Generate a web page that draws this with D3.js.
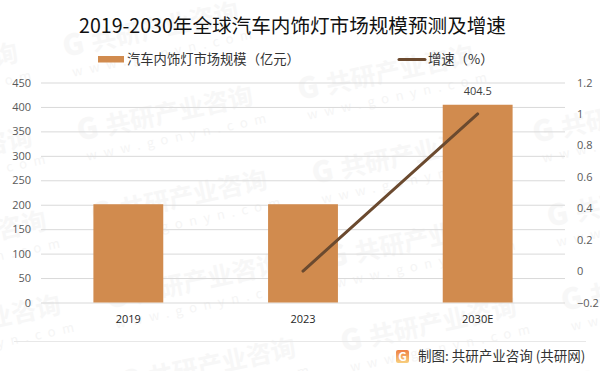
<!DOCTYPE html>
<html lang="zh">
<head>
    <meta charset="UTF-8">
    <title>2019-2030年全球汽车内饰灯市场规模预测及增速</title>
    <script src="https://cdn.jsdelivr.net/npm/d3@7/dist/d3.min.js"></script>
    <style>
        html, body { margin: 0; padding: 0; background: #fff; }
        svg { display: block; }
        text { font-family: "Noto Sans CJK SC", "Liberation Sans", sans-serif; }
        .num { font-family: "Open Sans", "Liberation Sans", sans-serif; }
    </style>
</head>
<body>
<script type="text/javascript">
    let categories = ["2019", "2023", "2030E"];
    let marketSize = [201, 201, 404.5];
    let growth = [null, 0, 1];
    let leftTicks = [0, 50, 100, 150, 200, 250, 300, 350, 400, 450];
    let rightTicks = [-0.2, 0, 0.2, 0.4, 0.6, 0.8, 1, 1.2];
    let barLabels = ["", "", "404.5"];

    let width = 600,
        height = 371,
        left = 41,
        right = 565,
        top_ = 82.5,
        bottom = 302.5;

    let svg = d3.select("body").append("svg")
        .attr("width", width)
        .attr("height", height);

    // 水印：斜向平铺
    let wm = svg.append("g").attr("class", "watermark");
    d3.range(-1, 3).forEach(function (col) {
        d3.range(0, 5).forEach(function (row) {
            let px = 65 + col * 235 + (row - 0) * 14.3,
                py = 57 + col * 43 + row * 84;
            if (px < -170 || py > 395 || py < -10) return;
            let g = wm.append("g")
                .attr("transform", "translate(" + px + "," + py + ") rotate(-12)");
            g.append("text").text("G")
                .attr("font-size", 29)
                .attr("font-weight", 900)
                .attr("fill", "#f7f7f7");
            g.append("text").text("共研产业咨询")
                .attr("x", 29)
                .attr("font-size", 25)
                .attr("font-weight", 700)
                .attr("fill", "#f7f7f7");
            g.append("text").text("www.gonyn.com")
                .attr("x", 4)
                .attr("y", 21)
                .attr("font-size", 13)
                .attr("letter-spacing", 6.8)
                .attr("fill", "#f5f5f5");
        });
    });

    let x = d3.scaleBand()
        .domain(categories)
        .range([left, right])
        .paddingInner(0.6)
        .paddingOuter(0.3);

    let yLeft = d3.scaleLinear()
        .domain([0, 450])
        .range([bottom, top_]);

    let yRight = d3.scaleLinear()
        .domain([-0.2, 1.2])
        .range([bottom, top_]);

    // 网格线
    svg.append("g")
        .attr("transform", "translate(" + left + ",0)")
        .call(d3.axisLeft(yLeft).tickValues(leftTicks).tickSize(-(right - left)).tickPadding(10))
        .call(function (g) {
            g.select(".domain").remove();
            g.selectAll("line").attr("stroke", "#d9d9d9").attr("stroke-width", 1);
            g.selectAll("text").attr("class", "num").attr("font-size", 11).attr("fill", "#595959");
        });

    svg.append("g")
        .attr("transform", "translate(" + right + ",0)")
        .call(d3.axisRight(yRight).tickValues(rightTicks).tickSize(0).tickPadding(12).tickFormat(d3.format("~g")))
        .call(function (g) {
            g.select(".domain").remove();
            g.selectAll("text").attr("class", "num").attr("font-size", 11).attr("fill", "#595959");
        });

    svg.append("g")
        .attr("transform", "translate(0," + bottom + ")")
        .call(d3.axisBottom(x).tickSize(0).tickPadding(13))
        .call(function (g) {
            g.select(".domain").remove();
            g.selectAll("text").attr("class", "num").attr("font-size", 11).attr("fill", "#262626");
        });

    // 柱
    svg.selectAll("rect.bar")
        .data(marketSize)
        .enter().append("rect")
        .attr("class", "bar")
        .attr("x", function (d, i) { return x(categories[i]); })
        .attr("y", function (d) { return yLeft(d); })
        .attr("width", x.bandwidth())
        .attr("height", function (d) { return bottom - yLeft(d); })
        .attr("fill", "#d18b4e");

    svg.selectAll("text.bar-label")
        .data(barLabels)
        .enter().append("text")
        .attr("class", "bar-label num")
        .attr("x", function (d, i) { return x(categories[i]) + x.bandwidth() / 2; })
        .attr("y", function (d, i) { return yLeft(marketSize[i]) - 10; })
        .attr("text-anchor", "middle")
        .attr("font-size", 11)
        .attr("fill", "#404040")
        .text(function (d) { return d; });

    // 折线
    let line = d3.line()
        .defined(function (d) { return d !== null; })
        .x(function (d, i) { return x(categories[i]) + x.bandwidth() / 2; })
        .y(function (d) { return yRight(d); });

    svg.append("path")
        .datum(growth)
        .attr("d", line)
        .attr("fill", "none")
        .attr("stroke", "#6b4a2f")
        .attr("stroke-width", 3)
        .attr("stroke-linecap", "round");

    // 标题
    svg.append("text")
        .attr("x", 292.5)
        .attr("y", 33)
        .attr("text-anchor", "middle")
        .attr("font-size", 19.6)
        .attr("fill", "#111")
        .text("2019-2030年全球汽车内饰灯市场规模预测及增速");

    // 图例
    svg.append("rect")
        .attr("x", 98).attr("y", 56).attr("width", 26).attr("height", 6.5)
        .attr("fill", "#d18b4e");
    svg.append("text")
        .attr("x", 127).attr("y", 64)
        .attr("font-size", 13.3).attr("fill", "#333")
        .text("汽车内饰灯市场规模（亿元）");
    svg.append("line")
        .attr("x1", 399).attr("x2", 425).attr("y1", 59.5).attr("y2", 59.5)
        .attr("stroke", "#6b4a2f").attr("stroke-width", 3).attr("stroke-linecap", "round");
    svg.append("text")
        .attr("x", 428).attr("y", 64)
        .attr("font-size", 13.3).attr("fill", "#333")
        .text("增速（%）");

    // 底部
    svg.append("line")
        .attr("x1", 14).attr("x2", 586).attr("y1", 341.5).attr("y2", 341.5)
        .attr("stroke", "#e8e8e8");
    let logoGrad = svg.append("defs").append("linearGradient")
        .attr("id", "logo-grad")
        .attr("x1", 0).attr("y1", 0).attr("x2", 0).attr("y2", 1);
    logoGrad.append("stop").attr("offset", 0).attr("stop-color", "#ee7f45");
    logoGrad.append("stop").attr("offset", 1).attr("stop-color", "#f8cf7e");
    svg.append("rect")
        .attr("x", 396).attr("y", 350).attr("width", 13).attr("height", 13).attr("rx", 2)
        .attr("fill", "url(#logo-grad)");
    svg.append("text")
        .attr("x", 402.5).attr("y", 361)
        .attr("text-anchor", "middle")
        .attr("font-size", 12).attr("font-weight", 700).attr("fill", "#fff")
        .text("G");
    svg.append("text")
        .attr("x", 418).attr("y", 361)
        .attr("font-size", 13.5).attr("fill", "#333")
        .text("制图: 共研产业咨询 (共研网)");
</script>
</body>
</html>
